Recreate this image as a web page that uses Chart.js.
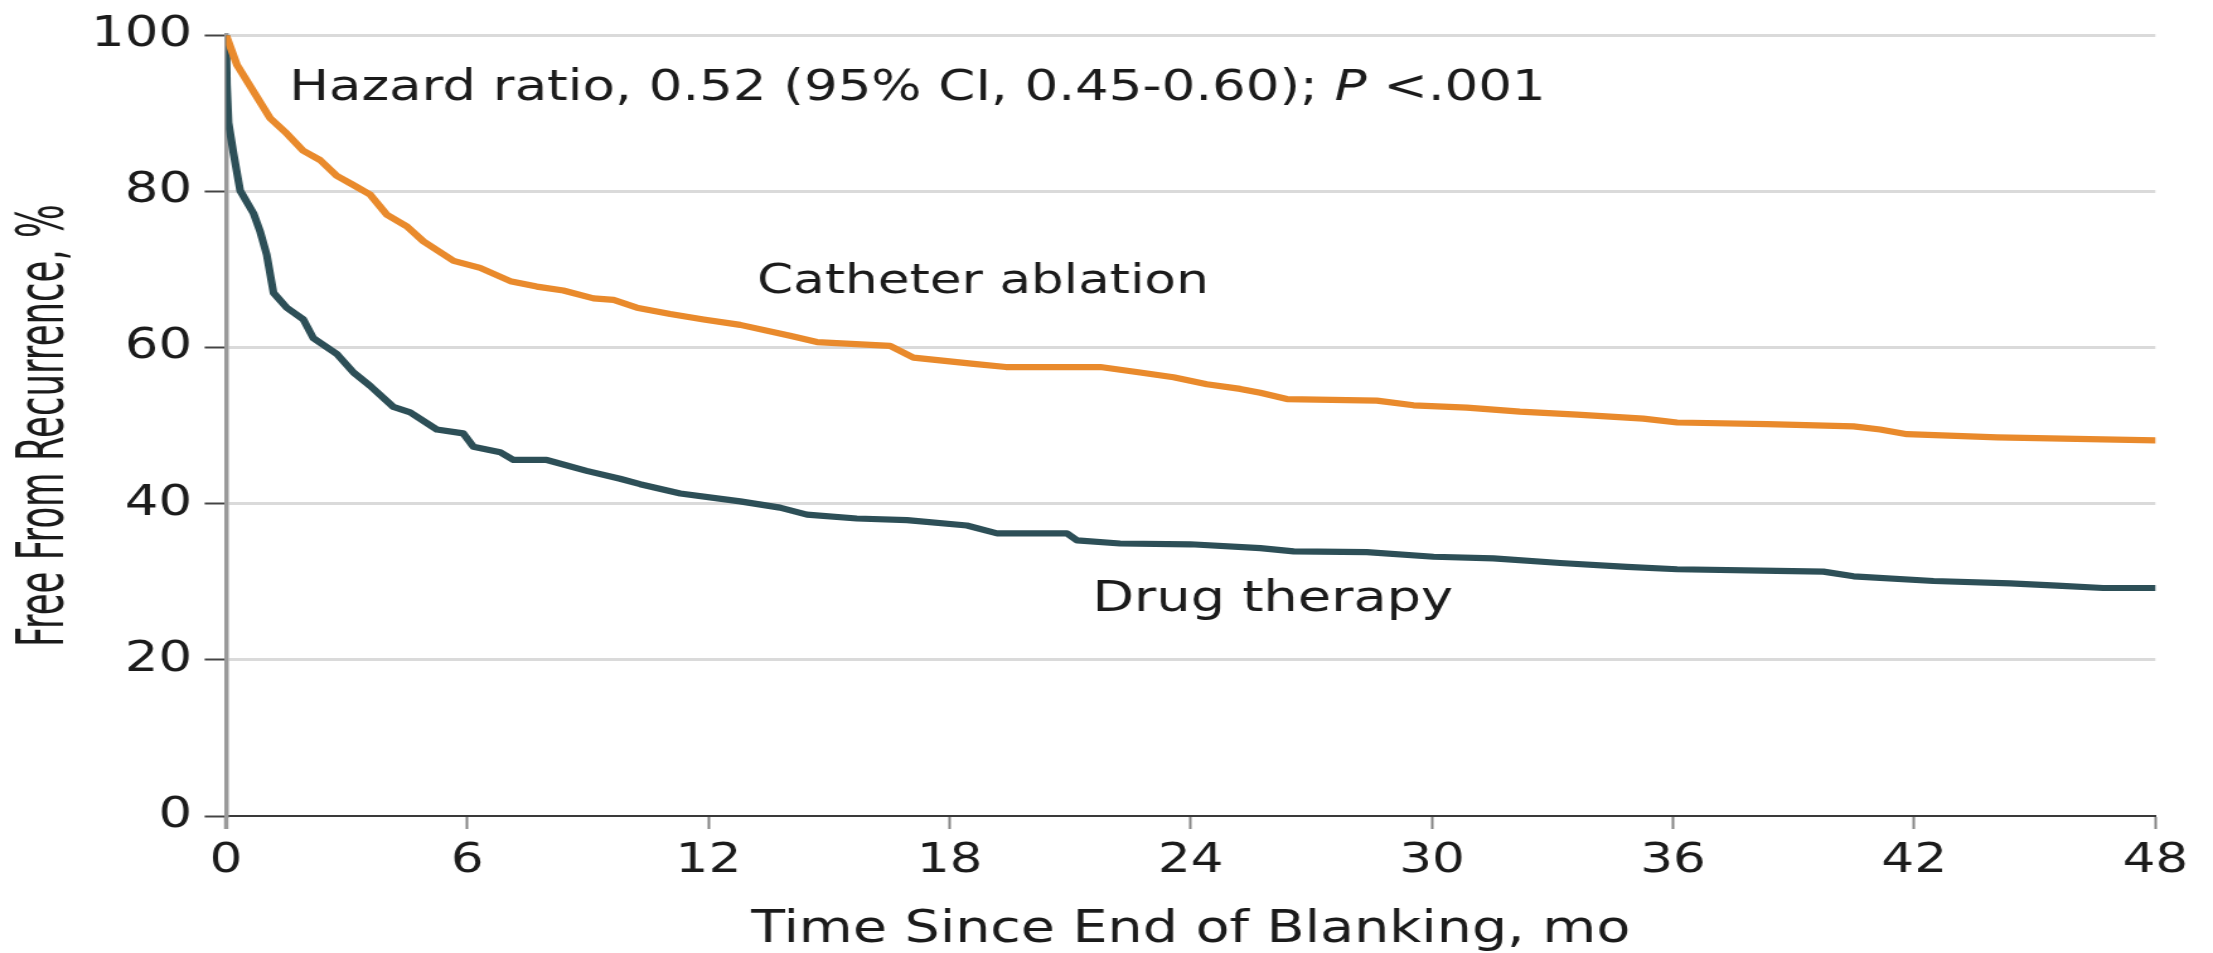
<!DOCTYPE html>
<html>
<head>
<meta charset="utf-8">
<script src="https://cdn.jsdelivr.net/npm/chart.js@4.4.0/dist/chart.umd.min.js"></script>
<style>
	html, body { margin: 0; padding: 0; background: #fff; overflow: hidden; }
	#wrap { width: 2213px; height: 953px; overflow: hidden; }
	/* the source figure is stretched sideways, so the canvas is too */
	#myChart { display: block; transform: scaleX(1.26025); transform-origin: 0 0; }
</style>
</head>
<body>
<div id="wrap"><canvas id="myChart" width="1756" height="953"></canvas></div>
<script>
const ablationMonths = [0, 0.27, 0.68, 1.09, 1.51, 1.92, 2.34, 2.75, 3.17, 3.58, 4.0, 4.5, 4.91, 5.66, 6.32, 7.07, 7.73, 8.39, 9.14, 9.64,
	10.22, 11.05, 11.88, 12.79, 14.03, 14.7, 16.52, 17.1, 18.6, 19.4, 21.75, 22.74, 23.57, 24.4, 25.23, 25.73, 26.39, 28.63, 29.54, 30.87,
	32.19, 33.61, 35.26, 36.1, 38.34, 40.49, 41.15, 41.82, 44.06, 48];
const ablationFree = [100, 96.2, 92.8, 89.4, 87.4, 85.2, 84.0, 82.0, 80.8, 79.6, 77.0, 75.5, 73.6, 71.1, 70.2, 68.5, 67.8, 67.3, 66.3, 66.1,
	65.1, 64.3, 63.6, 62.9, 61.5, 60.7, 60.2, 58.7, 57.9, 57.5, 57.5, 56.8, 56.2, 55.3, 54.7, 54.2, 53.4, 53.2, 52.6, 52.3,
	51.8, 51.4, 50.9, 50.4, 50.2, 49.9, 49.5, 48.9, 48.5, 48.1];
const drugMonths = [0, 0.02, 0.06, 0.18, 0.35, 0.68, 0.85, 1.01, 1.18, 1.51, 1.92, 2.17, 2.75, 3.17, 3.58, 4.16, 4.58, 5.24, 5.9, 6.15,
	6.82, 7.15, 7.98, 8.97, 9.8, 10.3, 11.3, 12.79, 13.78, 14.45, 15.69, 16.94, 18.43, 19.18, 20.92, 21.17, 22.24, 23.99, 25.73, 26.56,
	28.38, 30.04, 31.53, 33.19, 34.85, 36.1, 38.58, 39.74, 40.49, 42.48, 44.39, 45.55, 46.7, 48];
const drugFree = [100, 93.7, 88.8, 85.0, 80.1, 77.2, 74.8, 71.9, 67.0, 65.1, 63.6, 61.2, 59.2, 56.8, 55.1, 52.4, 51.7, 49.5, 49.0, 47.3,
	46.6, 45.6, 45.6, 44.2, 43.2, 42.5, 41.3, 40.3, 39.5, 38.6, 38.1, 37.9, 37.2, 36.2, 36.2, 35.3, 34.9, 34.8, 34.3, 33.9,
	33.8, 33.2, 33.0, 32.4, 31.9, 31.6, 31.4, 31.3, 30.7, 30.1, 29.8, 29.5, 29.2, 29.2];
const monthTicks = [0, 6, 12, 18, 24, 30, 36, 42, 48];
const percentTicks = [0, 20, 40, 60, 80, 100];

const fam = '"DejaVu Sans", sans-serif';
const ink = '#1b1b1b';

function toPoints(xs, ys) {
	return xs.map((m, i) => ({ x: m, y: ys[i] }));
}

// text notes, anchored in data units
const notesPlugin = {
	id: 'notes',
	afterDatasetsDraw(chart) {
		const { ctx, scales: { x, y } } = chart;
		ctx.save();
		ctx.fillStyle = ink;
		ctx.textAlign = 'left';
		ctx.textBaseline = 'middle';

		let px = x.getPixelForValue(1.57), py = y.getPixelForValue(93.1);
		const first = 'Hazard ratio, 0.52 (95% CI, 0.45-0.60); ';
		ctx.font = '42px ' + fam;
		ctx.fillText(first, px, py);
		px += ctx.measureText(first).width;
		ctx.font = 'italic 42px ' + fam;
		ctx.fillText('P', px, py);
		px += ctx.measureText('P').width;
		ctx.font = '42px ' + fam;
		ctx.fillText(' <.001', px, py);

		ctx.font = '41px ' + fam;
		ctx.fillText('Catheter ablation', x.getPixelForValue(13.21), y.getPixelForValue(68.3));
		ctx.font = '43px ' + fam;
		ctx.fillText('Drug therapy', x.getPixelForValue(21.55), y.getPixelForValue(27.7));

		// y axis title, narrow lettering like the original
		ctx.translate(37, (y.top + y.bottom) / 2);
		ctx.rotate(-Math.PI / 2);
		ctx.scale(1, 1.45);
		ctx.font = '35.5px ' + fam;
		ctx.textAlign = 'center';
		ctx.fillText('Free From Recurrence, %', 0, 0);
		ctx.restore();
	}
};

const canvas = document.getElementById('myChart').getContext('2d');
const kmChart = new Chart(canvas, {
	type: 'line',
	data: {
		datasets: [
			{
				label: 'Catheter ablation',
				data: toPoints(ablationMonths, ablationFree),
				borderColor: '#E98A2C',
				borderWidth: 6.2,
				pointRadius: 0,
				tension: 0,
				fill: false,
				borderJoinStyle: 'round',
				borderCapStyle: 'round',
			},
			{
				label: 'Drug therapy',
				data: toPoints(drugMonths, drugFree),
				borderColor: '#2D4F57',
				borderWidth: 6.2,
				pointRadius: 0,
				tension: 0,
				fill: false,
				borderJoinStyle: 'round',
				borderCapStyle: 'round',
			},
		],
	},
	options: {
		responsive: false,
		animation: false,
		devicePixelRatio: 1,
		layout: { padding: { top: 28, right: 45.7, left: 0, bottom: 0 } },
		plugins: {
			legend: { display: false },
			tooltip: { enabled: false },
		},
		scales: {
			x: {
				type: 'linear',
				min: 0,
				max: 48,
				afterBuildTicks: (s) => { s.ticks = monthTicks.map((v) => ({ value: v })); },
				afterFit: (s) => { s.height = 137; },
				ticks: { font: { family: fam, size: 41 }, color: ink, padding: 8, maxRotation: 0, autoSkip: false },
				grid: {
					drawOnChartArea: false,
					drawTicks: true,
					tickLength: 13,
					tickColor: (c) => (c.index === 0 ? '#9a9a9a' : '#858585'),
					tickWidth: (c) => (c.index === 0 ? 3.5 : 2),
				},
				border: { display: true, color: '#3a3a3a', width: 2 },
				title: {
					display: true,
					text: 'Time Since End of Blanking, mo',
					color: ink,
					font: { family: fam, size: 44, lineHeight: 1 },
					padding: { top: 0, bottom: 0 },
				},
			},
			y: {
				min: 0,
				max: 100,
				afterBuildTicks: (s) => { s.ticks = percentTicks.map((v) => ({ value: v })); },
				afterFit: (s) => { s.width = 179.4; },
				ticks: { font: { family: fam, size: 42 }, color: ink, padding: 10 },
				grid: {
					color: (c) => (c.tick && c.tick.value === 0 ? 'rgba(0,0,0,0)' : '#dadada'),
					lineWidth: 3,
					tickLength: 17,
					tickColor: '#444',
					tickWidth: 2,
				},
				border: { display: true, color: '#9a9a9a', width: 3.5 },
				title: { display: false },
			},
		},
	},
	plugins: [notesPlugin],
});
</script>
</body>
</html>
